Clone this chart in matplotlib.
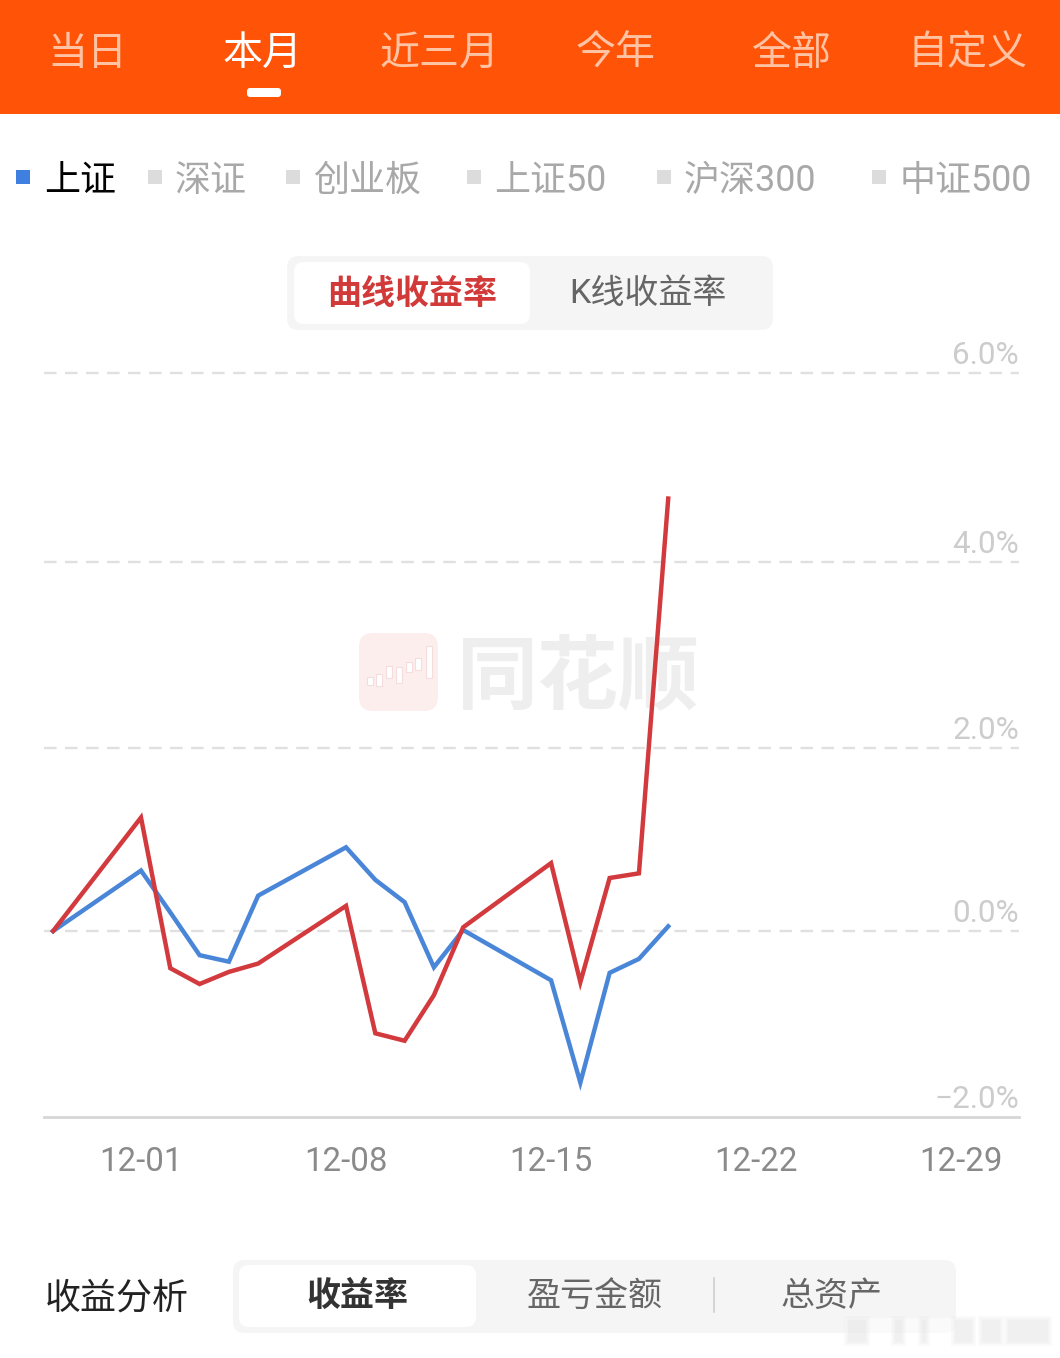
import matplotlib
matplotlib.use("Agg")
import matplotlib.pyplot as plt
from matplotlib.patches import FancyBboxPatch, Rectangle
from matplotlib.transforms import ScaledTranslation

plt.rcParams['font.family'] = ['Roboto', 'Noto Sans CJK SC', 'DejaVu Sans']

W, H = 1060, 1358

# days counted from 12-01
days = [-3, 0, 1, 2, 3, 4, 7, 8, 9, 10, 11, 14, 15, 16, 17, 18]
red_vals = [0, 1.22, -0.40, -0.57, -0.44, -0.35, 0.27, -1.10, -1.18, -0.69, 0.04, 0.73, -0.55, 0.57, 0.62, 4.65]
blue_vals = [0, 0.65, 0.20, -0.26, -0.33, 0.38, 0.90, 0.55, 0.31, -0.39, 0.01, -0.53, -1.63, -0.45, -0.30, 0.05]
x_ticks = [0, 7, 14, 21, 28]
x_labels = ['12-01', '12-08', '12-15', '12-22', '12-29']
y_ticks = [-2, 0, 1.97, 3.97, 6]
y_labels = ['\u22122.0%', '0.0%', '2.0%', '4.0%', '6.0%']
tabs = ['当日', '本月', '近三月', '今年', '全部', '自定义']
markets = ['上证', '深证', '创业板', '上证50', '沪深300', '中证500']
bottom_tabs = ['收益率', '盈亏金额', '总资产']


def px(size):
    return size * 0.72


def box(a, x0, y0, x1, y1, color, r=10, z=1):
    a.add_patch(FancyBboxPatch((x0 + r, y0 + r), x1 - x0 - 2 * r, y1 - y0 - 2 * r,
                               boxstyle="round,pad=%d,rounding_size=%d" % (r, r),
                               fc=color, ec='none', zorder=z))


fig = plt.figure(figsize=(W / 100, H / 100), dpi=100, facecolor='white')
bg = fig.add_axes([0, 0, 1, 1])
bg.set_xlim(0, W)
bg.set_ylim(H, 0)
bg.axis('off')

# top tabs
bg.add_patch(Rectangle((0, 0), W, 114, fc='#ff5307', ec='none'))
tab_x = [87, 263, 439, 616, 792, 968]
for i, t in enumerate(tabs):
    bg.text(tab_x[i], 49, t, fontsize=px(40), ha='center', va='center_baseline',
            color='white' if i == 1 else '#ffc3a3')
box(bg, 247, 88, 281, 97, 'white', r=3)

# market row
sq_x = [16, 148, 286, 467, 657, 872]
txt_x = [44, 175, 313, 494, 684, 900]
for i, t in enumerate(markets):
    bg.add_patch(Rectangle((sq_x[i], 170), 14, 14, fc='#3f7fe0' if i == 0 else '#dcdcdc', ec='none'))
    bg.text(txt_x[i], 177, t, fontsize=px(36), ha='left', va='center_baseline',
            color='black' if i == 0 else '#a8a8a8')

# curve / K switch
box(bg, 287, 256, 773, 330, '#f5f5f5', r=12)
box(bg, 294, 262, 530, 324, 'white', r=10, z=2)
bg.text(412, 291, '曲线收益率', fontsize=px(34), fontweight='bold', ha='center', va='center_baseline',
        color='#d23a3a', zorder=3)
bg.text(648, 291, 'K线收益率', fontsize=px(34), ha='center', va='center_baseline', color='#666666', zorder=3)

# watermark
box(bg, 359, 633, 438, 711, '#fdeeee', r=14)
for cx, cy, h in [(370, 681, 8), (379, 680, 12), (389, 672, 12), (399, 675, 16), (409, 667, 10), (418, 664, 12), (429, 662, 32)]:
    bg.add_patch(Rectangle((cx - 3, cy - h / 2), 6, h, fc='white', ec='#f6dcdc', lw=0.8, zorder=2))
bg.text(578, 672, '同花顺', fontsize=px(81), fontweight='bold', ha='center', va='center_baseline', color='#eeeeee')

# bottom switch
bg.text(45, 1295, '收益分析', fontsize=px(36), ha='left', va='center_baseline', color='#222222')
box(bg, 233, 1260, 956, 1333, '#f5f5f5', r=12)
box(bg, 239, 1265, 476, 1327, 'white', r=10, z=2)
bg.text(357, 1293, bottom_tabs[0], fontsize=px(34), fontweight='bold', ha='center', va='center_baseline',
        color='#333333', zorder=3)
bg.text(595, 1293, bottom_tabs[1], fontsize=px(34), ha='center', va='center_baseline', color='#666666', zorder=3)
bg.text(832, 1293, bottom_tabs[2], fontsize=px(34), ha='center', va='center_baseline', color='#666666', zorder=3)
bg.plot([714, 714], [1278, 1312], color='#cfcfcf', lw=1.2, zorder=3)

# blurred corner mark
bg.add_patch(Rectangle((845, 1318), 205, 28, fc='white', ec='none', alpha=0.5, zorder=4))
for x0, x1 in [(848, 866), (895, 902), (922, 926), (955, 972), (982, 1000), (1008, 1048)]:
    for grow, a in [(4, 0.12), (2, 0.15), (0, 0.2)]:
        bg.add_patch(Rectangle((x0 - grow, 1320 - grow), x1 - x0 + 2 * grow, 22 + 2 * grow,
                               fc='#dcdcdc', ec='none', alpha=a, zorder=5))

# chart
x_left, x_right = 44, 1019
y_top, y_bot = 373, 1117
ax = fig.add_axes([x_left / W, 1 - y_bot / H, (x_right - x_left) / W, (y_bot - y_top) / H])
ax.patch.set_alpha(0)
ax.set_xlim((x_left - 141) / 29.29, (x_right - 141) / 29.29)
ax.set_ylim(-2, 6)
for s in ['top', 'left', 'right']:
    ax.spines[s].set_visible(False)
ax.spines['bottom'].set_color('#d6d6d6')
ax.spines['bottom'].set_linewidth(2.0)

for v in y_ticks[1:]:
    ax.plot([0, 1], [v, v], transform=ax.get_yaxis_transform(), color='#e0e0e0', lw=1.7,
            dashes=(5.3, 3.6), clip_on=False, zorder=1)

ax.plot(days, blue_vals, color='#4a86d8', lw=3.2, solid_joinstyle='miter', zorder=3)
ax.plot(days, red_vals, color='#d23a3d', lw=3.2, solid_joinstyle='miter', zorder=4)

ax.set_xticks(x_ticks)
ax.set_xticklabels(x_labels, fontsize=px(33), color='#8a8a8a')
ax.tick_params(axis='x', length=0, pad=21)

ax.yaxis.tick_right()
ax.set_yticks(y_ticks)
ax.set_yticklabels(y_labels, fontsize=px(31.5), color='#cccccc')
ax.tick_params(axis='y', length=0, pad=0)
nudge = ScaledTranslation(0, 2.5 / 100, fig.dpi_scale_trans)
for lab in ax.get_yticklabels():
    lab.set_ha('right')
    lab.set_va('bottom')
    lab.set_transform(lab.get_transform() + nudge)

fig.savefig('out.png', dpi=100)
